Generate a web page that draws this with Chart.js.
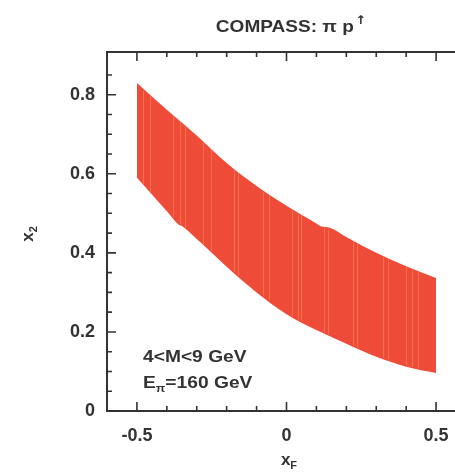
<!DOCTYPE html>
<html>
<head>
<meta charset="utf-8">
<script src="https://cdn.jsdelivr.net/npm/chart.js@4/dist/chart.umd.min.js"></script>
<style>
  html, body { margin: 0; padding: 0; background: #fff; overflow: hidden; }
  #wrap { width: 480px; height: 473px; }
</style>
</head>
<body>
<div id="wrap"><canvas id="c" width="480" height="473"></canvas></div>
<script>
'use strict';
// x_2 band vs x_F, lower and upper edges
var lowerX = [-0.5, -0.4, -0.36, -0.35, -0.3, -0.2, -0.1, 0, 0.1, 0.2, 0.3, 0.4, 0.5];
var lowerY = [0.590, 0.505, 0.471, 0.468, 0.435, 0.365, 0.300, 0.245, 0.205, 0.170, 0.137, 0.112, 0.096];
var upperX = [-0.5, -0.4, -0.3, -0.2, -0.1, 0, 0.1, 0.114, 0.147, 0.2, 0.3, 0.4, 0.5];
var upperY = [0.830, 0.762, 0.697, 0.627, 0.569, 0.519, 0.474, 0.467, 0.463, 0.440, 0.400, 0.366, 0.336];
// seams between the band's vertical slices
var seamX = [-0.478, -0.455, -0.378, -0.355, -0.338, -0.278, -0.254, -0.177, -0.161,
    -0.077, -0.060, 0.020, 0.037, 0.047, 0.124, 0.140, 0.221, 0.237, 0.321, 0.338,
    0.398, 0.421, 0.441];

var xTicks = [-0.5, -0.4, -0.3, -0.2, -0.1, 0, 0.1, 0.2, 0.3, 0.4, 0.5];
var xTickLabels = ['-0.5', '', '', '', '', '0', '', '', '', '', '0.5'];
var yTicks = [0, 0.05, 0.1, 0.15, 0.2, 0.25, 0.3, 0.35, 0.4, 0.45, 0.5, 0.55, 0.6, 0.65,
    0.7, 0.75, 0.8, 0.85];
var yTickLabels = ['0', '', '', '', '0.2', '', '', '', '0.4', '', '', '', '0.6', '', '',
    '', '0.8', ''];

var INK = '#333';
var BAND = 'rgb(239,75,57)';
var SANS = '"Liberation Sans", Arial, sans-serif';

function toPoints(xs, ys) {
    return xs.map(function (x, i) { return { x: x, y: ys[i] }; });
}
function interp(xs, ys, x) {
    for (var i = 1; i < xs.length; i++) {
        if (x <= xs[i]) {
            var t = (x - xs[i - 1]) / (xs[i] - xs[i - 1]);
            return ys[i - 1] + t * (ys[i] - ys[i - 1]);
        }
    }
    return ys[ys.length - 1];
}
function labelFor(ticks, labels) {
    return function (value) {
        for (var i = 0; i < ticks.length; i++) {
            if (Math.abs(ticks[i] - value) < 1e-6) {
                return labels[i];
            }
        }
        return '';
    };
}
function partsWidth(ctx, parts) {
    var w = 0;
    parts.forEach(function (p) {
        ctx.font = p.font;
        w += ctx.measureText(p.text).width + (p.gap || 0);
    });
    return w;
}
// text with sub/superscripts; cx is the centre (or left edge when left=true)
function drawScripted(ctx, parts, cx, y, sx, left) {
    sx = sx || 1;
    var x = left ? 0 : -partsWidth(ctx, parts) / 2;
    ctx.save();
    ctx.translate(cx, y);
    ctx.scale(sx, 1);
    parts.forEach(function (p) {
        ctx.font = p.font;
        ctx.fillText(p.text, x, p.dy || 0);
        x += ctx.measureText(p.text).width + (p.gap || 0);
    });
    ctx.restore();
}

var seamsPlugin = {
    id: 'seams',
    afterDatasetsDraw: function (chart) {
        var ctx = chart.ctx, xs = chart.scales.x, ys = chart.scales.y;
        ctx.save();
        ctx.strokeStyle = 'rgba(250,150,90,0.5)';
        ctx.lineWidth = 1;
        seamX.forEach(function (sx) {
            var px = Math.round(xs.getPixelForValue(sx)) + 0.5;
            ctx.beginPath();
            ctx.moveTo(px, ys.getPixelForValue(interp(upperX, upperY, sx)) + 1);
            ctx.lineTo(px, ys.getPixelForValue(interp(lowerX, lowerY, sx)) - 1);
            ctx.stroke();
        });
        ctx.restore();
    }
};

var framePlugin = {
    id: 'frame',
    afterDraw: function (chart) {
        var ctx = chart.ctx, a = chart.chartArea;
        var xs = chart.scales.x, ys = chart.scales.y;
        ctx.save();
        ctx.strokeStyle = INK;
        ctx.lineWidth = 2;
        ctx.strokeRect(a.left, a.top, a.right - a.left, a.bottom - a.top);
        ctx.lineWidth = 1.6;
        ctx.beginPath();
        xTicks.forEach(function (v, i) {
            var px = xs.getPixelForValue(v), len = xTickLabels[i] ? 9 : 5;
            ctx.moveTo(px, a.bottom); ctx.lineTo(px, a.bottom - len);
            ctx.moveTo(px, a.top); ctx.lineTo(px, a.top + len);
        });
        yTicks.forEach(function (v, i) {
            var py = ys.getPixelForValue(v), len = yTickLabels[i] ? 9 : 5;
            ctx.moveTo(a.left, py); ctx.lineTo(a.left + len, py);
            ctx.moveTo(a.right, py); ctx.lineTo(a.right - len, py);
        });
        ctx.stroke();

        ctx.fillStyle = INK;
        ctx.textBaseline = 'alphabetic';
        ctx.textAlign = 'left';

        var big = 'bold 17px ' + SANS, small = 'bold 11px ' + SANS;

        // title
        drawScripted(ctx, [
            { text: 'COMPASS: ', font: big },
            { text: '\u03c0 p', font: big, gap: 1 },
            { text: '\u2191', font: 'bold 12px "DejaVu Sans", sans-serif', dy: -8 }
        ], 291, 32, 1.12);

        // kinematics note
        drawScripted(ctx, [{ text: '4<M<9 GeV', font: big }], 143, 362, 1.13, true);
        drawScripted(ctx, [
            { text: 'E', font: big },
            { text: '\u03c0', font: small, dy: 4 },
            { text: '=160 GeV', font: big }
        ], 143, 388, 1.13, true);

        // x axis title
        drawScripted(ctx, [
            { text: 'x', font: big },
            { text: 'F', font: small, dy: 4 }
        ], 289, 465);

        // y axis title, reading upwards
        ctx.translate(33, 234);
        ctx.rotate(-Math.PI / 2);
        drawScripted(ctx, [
            { text: 'x', font: big },
            { text: '2', font: small, dy: 4 }
        ], 0, 0);
        ctx.restore();
    }
};

var tickFont = { family: SANS, size: 18, weight: 'bold' };

new Chart(document.getElementById('c'), {
    type: 'line',
    data: {
        datasets: [{
            label: 'lower',
            data: toPoints(lowerX, lowerY),
            borderWidth: 0,
            pointRadius: 0,
            cubicInterpolationMode: 'monotone',
            fill: false
        }, {
            label: 'upper',
            data: toPoints(upperX, upperY),
            borderWidth: 0,
            pointRadius: 0,
            cubicInterpolationMode: 'monotone',
            backgroundColor: BAND,
            fill: '-1'
        }]
    },
    options: {
        responsive: false,
        animation: false,
        layout: { padding: { left: 0, top: 52, right: 14, bottom: 0 } },
        plugins: {
            legend: { display: false },
            tooltip: { enabled: false }
        },
        scales: {
            x: {
                type: 'linear',
                min: -0.6,
                max: 0.6,
                grid: { display: false, drawTicks: false },
                border: { display: false },
                afterBuildTicks: function (scale) {
                    scale.ticks = xTicks.map(function (v) { return { value: v }; });
                },
                afterFit: function (scale) { scale.height = 62; },
                ticks: {
                    autoSkip: false,
                    maxRotation: 0,
                    padding: 14,
                    color: INK,
                    font: tickFont,
                    callback: labelFor(xTicks, xTickLabels)
                }
            },
            y: {
                type: 'linear',
                min: 0,
                max: 0.908,
                grid: { display: false, drawTicks: false },
                border: { display: false },
                afterBuildTicks: function (scale) {
                    scale.ticks = yTicks.map(function (v) { return { value: v }; });
                },
                afterFit: function (scale) { scale.width = 107; },
                ticks: {
                    autoSkip: false,
                    padding: 12,
                    color: INK,
                    font: tickFont,
                    callback: labelFor(yTicks, yTickLabels)
                }
            }
        }
    },
    plugins: [seamsPlugin, framePlugin]
});
</script>
</body>
</html>
